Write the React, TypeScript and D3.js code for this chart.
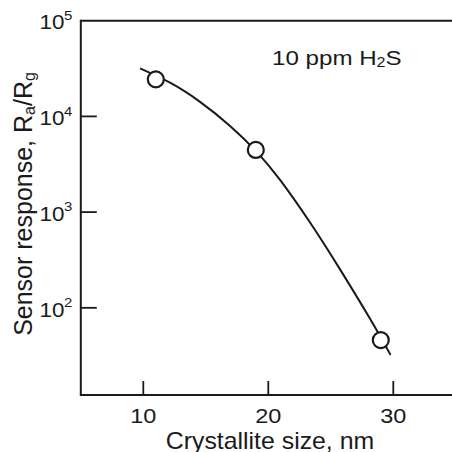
import * as d3 from 'd3';

// measured points (crystallite size, nm / response Ra/Rg)
const sizeNm = [11, 19, 29];
const response = [24400, 4460, 46];

// fitted curve
const fitSize = [9.74, 12.14, 14.54, 16.94, 19.02, 20.94, 23.34, 25.74, 28.14, 29.78];
const fitResp = [31800, 22500, 14200, 7960, 4340, 2170, 778, 252, 76.7, 32.2];

const xTicks = [10, 20, 30];
const yExps = [2, 3, 4, 5];

const W = 452;
const H = 452;
const font = 'Liberation Sans, Arial, sans-serif';
const ink = '#1a1a1a';

export default function App() {
  const left = 80.8;
  const bottom = 395;
  const top = 20.7;

  const x = d3.scaleLinear().domain([5, 35]).range([left, left + 375]);
  const y = d3.scaleLog().domain([Math.pow(10, 1.089), 1e5]).range([bottom, top]);

  const line = d3
    .line<number>()
    .x((_, i) => x(fitSize[i]))
    .y((d) => y(d))
    .curve(d3.curveNatural);

  return (
    <svg
      width={W}
      height={H}
      style={{ position: 'absolute', left: 0, top: 0, background: '#fff' }}
      fontFamily={font}
    >
      <rect width={W} height={H} fill="#fff" />

      {/* frame */}
      <line x1={left} x2={W} y1={top} y2={top} stroke={ink} strokeWidth={2} />
      <line x1={left} x2={W} y1={bottom} y2={bottom} stroke={ink} strokeWidth={2} />
      <line x1={left} x2={left} y1={top - 1} y2={bottom + 1} stroke={ink} strokeWidth={2} />

      {/* x ticks */}
      {xTicks.map((t) => (
        <g key={t}>
          <line x1={x(t)} x2={x(t)} y1={bottom} y2={bottom - 14} stroke={ink} strokeWidth={1.8} />
          <text
            transform={`translate(${x(t)},423) scale(1.12,1)`}
            textAnchor="middle"
            fontSize={21}
            fill={ink}
          >
            {t}
          </text>
        </g>
      ))}

      {/* y ticks */}
      {yExps.map((e) => {
        const yy = y(Math.pow(10, e));
        return (
          <g key={e}>
            {e < 5 && (
              <line x1={left} x2={left + 16} y1={yy} y2={yy} stroke={ink} strokeWidth={1.8} />
            )}
            <text
              transform={`translate(64.4,${yy + 8.7}) scale(1.12,1)`}
              textAnchor="end"
              fontSize={20}
              fill={ink}
            >
              10
            </text>
            <text
              transform={`translate(64,${yy - 0.7}) scale(1.15,1)`}
              fontSize={13}
              fill={ink}
            >
              {e}
            </text>
          </g>
        );
      })}

      {/* curve */}
      <path d={line(fitResp) || ''} fill="none" stroke={ink} strokeWidth={2} />

      {/* points */}
      {sizeNm.map((s, i) => (
        <circle key={s} cx={x(s)} cy={y(response[i])} r={8} fill="#fff" stroke={ink} strokeWidth={2.2} />
      ))}

      {/* annotation */}
      <text transform="translate(272,65) scale(1.15,1)" fontSize={21} fill={ink}>
        10 ppm H<tspan fontSize={14} dy={1.5}>2</tspan>
        <tspan dy={-1.5}>S</tspan>
      </text>

      {/* axis titles */}
      <text
        transform="translate(270,449) scale(1.08,1)"
        textAnchor="middle"
        fontSize={23}
        fill={ink}
      >
        Crystallite size, nm
      </text>
      <text
        transform="translate(32,204) scale(1.04,1) rotate(-90)"
        textAnchor="middle"
        fontSize={25}
        fill={ink}
      >
        Sensor response, R<tspan fontSize={16} dy={3}>a</tspan>
        <tspan dy={-3}>/R</tspan>
        <tspan fontSize={16} dy={3}>g</tspan>
      </text>
    </svg>
  );
}
